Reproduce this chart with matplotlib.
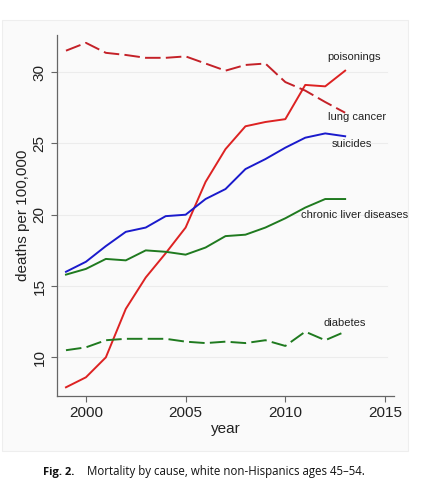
import matplotlib
matplotlib.use("Agg")
import matplotlib.pyplot as plt
from matplotlib.patches import Rectangle

plt.rcParams['font.family'] = ['Liberation Sans', 'DejaVu Sans']

years = list(range(1999, 2014))
poisonings = [7.9, 8.6, 10.0, 13.4, 15.6, 17.3, 19.1, 22.3, 24.6, 26.2, 26.5, 26.7, 29.1, 29.0, 30.1]
lung_cancer = [31.5, 32.05, 31.35, 31.2, 31.0, 31.0, 31.1, 30.6, 30.1, 30.5, 30.6, 29.3, 28.7, 27.9, 27.15]
suicides = [16.0, 16.7, 17.8, 18.8, 19.1, 19.9, 20.0, 21.1, 21.8, 23.2, 23.9, 24.7, 25.4, 25.7, 25.5]
liver = [15.8, 16.2, 16.9, 16.8, 17.5, 17.4, 17.2, 17.7, 18.5, 18.6, 19.1, 19.75, 20.5, 21.1, 21.1]
diabetes = [10.5, 10.7, 11.2, 11.3, 11.3, 11.3, 11.1, 11.0, 11.1, 11.0, 11.2, 10.8, 11.8, 11.2, 11.8]
xticks = [2000, 2005, 2010, 2015]
yticks = [10, 15, 20, 25, 30]

fig = plt.figure(figsize=(4.35, 4.97), dpi=100)
fig.patch.set_facecolor("white")
panel = Rectangle((2/435, 1-451/497), 406/435, 431/497,
                  transform=fig.transFigure,
                  facecolor="#fafafa", edgecolor="#eeeeee", lw=0.8, zorder=-10)
fig.patches.append(panel)

ax = fig.add_axes([57/435, 1-396/497, 337/435, 361/497])
ax.set_zorder(2)
ax.set_facecolor("none")
ax.set_xlim(1998.55, 2015.45)
ax.set_ylim(7.29, 32.6)

red = "#dd2222"
dred = "#c42128"
blue = "#1a1acc"
green = "#1f7a1f"
lw = 1.4
ax.plot(years, poisonings, color=red, lw=lw)
ax.plot(years, lung_cancer, color=dred, lw=lw, dashes=(8, 2.7))
ax.plot(years, suicides, color=blue, lw=lw)
ax.plot(years, liver, color=green, lw=lw)
ax.plot(years, diabetes, color=green, lw=lw, dashes=(8, 2.7))

for y in yticks:
    ax.axhline(y, xmin=0, xmax=0.98, color="#ececec", lw=0.8, zorder=0)

ax.spines["top"].set_visible(False)
ax.spines["right"].set_visible(False)
for s in ["left", "bottom"]:
    ax.spines[s].set_color("#666666")
    ax.spines[s].set_linewidth(0.9)
ax.set_xticks(xticks)
ax.set_yticks(yticks)
ax.tick_params(axis="both", colors="#666666", labelcolor="#222222", labelsize=11, length=4, width=0.8)
for lab in ax.get_yticklabels():
    lab.set_rotation(90)
    lab.set_va("center")
ax.set_xlabel("year", fontsize=11, color="#222222", labelpad=1)
ax.set_ylabel("deaths per 100,000", fontsize=11, color="#222222", labelpad=2)

tk = dict(fontsize=8, color="#222222", ha="center", va="center")
ax.text(2013.45, 31.05, "poisonings", **tk)
ax.text(2013.58, 26.85, "lung cancer", **tk)
ax.text(2013.35, 24.96, "suicides", **tk)
ax.text(2013.48, 20.0, "chronic liver diseases", **tk)
ax.text(2013.0, 12.4, "diabetes", **tk)

fig.text(43/435, 1-472/497, "Fig. 2.", fontsize=8, fontweight="bold", color="#111111",
         va="center", ha="left", family="Open Sans")
fig.text(87/435, 1-472/497, "Mortality by cause, white non-Hispanics ages 45\u201354.", fontsize=8.3,
         color="#111111", va="center", ha="left", family="Open Sans")

fig.savefig("out.png", dpi=100)
